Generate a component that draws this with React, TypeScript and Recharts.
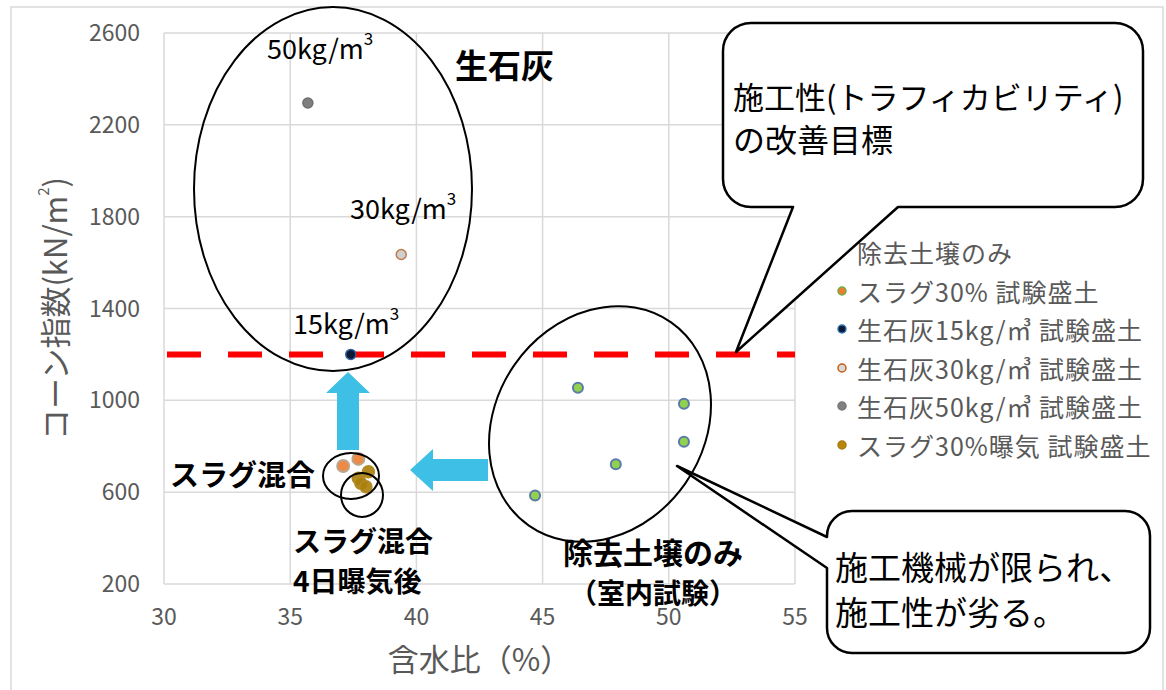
import React from "react";
import {
  ScatterChart,
  Scatter,
  XAxis,
  YAxis,
  CartesianGrid,
  ReferenceLine,
  Legend,
} from "recharts";

const FONT = "'Noto Sans CJK JP', 'Noto Sans', sans-serif";

// 含水比 (%) ticks and コーン指数 ticks
const xTicks = [30, 35, 40, 45, 50, 55];
const yTicks = [200, 600, 1000, 1400, 1800, 2200, 2600];

// series names, in legend order
const seriesNames = [
  "除去土壌のみ",
  "スラグ30% 試験盛土",
  "生石灰15kg/㎥ 試験盛土",
  "生石灰30kg/㎥ 試験盛土",
  "生石灰50kg/㎥ 試験盛土",
  "スラグ30%曝気 試験盛土",
];

// series: w = 含水比(%), cone = コーン指数(kN/m2)
const soilOnly = [
  { w: 46.4, cone: 1055 },
  { w: 50.6, cone: 985 },
  { w: 50.6, cone: 820 },
  { w: 47.9, cone: 722 },
  { w: 44.7, cone: 585 },
];
const slag30 = [
  { w: 37.1, cone: 714 },
  { w: 37.7, cone: 745 },
];
const lime15 = [{ w: 37.4, cone: 1200 }];
const lime30 = [{ w: 39.4, cone: 1635 }];
const lime50 = [{ w: 35.7, cone: 2295 }];
const slag30Aired = [
  { w: 38.1, cone: 689 },
  { w: 37.7, cone: 661 },
  { w: 37.8, cone: 639 },
  { w: 38.0, cone: 624 },
];

const targetCone = 1200;

// legend markers as they look in the source legend
const legendMarks = [
  { fill: "#f8cbad", stroke: "#f4b183" },
  { fill: "#ed7d31", stroke: "#70ad47" },
  { fill: "#0c1a33", stroke: "#2e75b6" },
  { fill: "#d9d9d9", stroke: "#c55a11" },
  { fill: "#808080", stroke: "#767676" },
  { fill: "#b8860b", stroke: "#a67c12" },
];

const dot =
  (r: number, fill: string, stroke: string, sw = 1.5, opacity = 1) =>
  (props: any) =>
    (
      <circle
        cx={props.cx}
        cy={props.cy}
        r={r}
        fill={fill}
        fillOpacity={opacity}
        stroke={stroke}
        strokeWidth={sw}
      />
    );

function renderLegend(props: any) {
  const payload = [...(props.payload || [])].sort(
    (a: any, b: any) => seriesNames.indexOf(a.value) - seriesNames.indexOf(b.value)
  );
  return (
    <div
      style={{
        fontFamily: FONT,
        fontSize: 25,
        letterSpacing: 1,
        color: "#595959",
        lineHeight: "38.5px",
      }}
    >
      {payload.map((entry: any) => {
        const m = legendMarks[seriesNames.indexOf(entry.value)] || legendMarks[0];
        return (
          <div
            key={entry.value}
            style={{ display: "flex", alignItems: "center", whiteSpace: "nowrap" }}
          >
            <svg width={20} height={12} style={{ flex: "none" }}>
              <circle cx={5} cy={6} r={4} fill={m.fill} stroke={m.stroke} strokeWidth={1.5} />
            </svg>
            <span>{entry.value}</span>
          </div>
        );
      })}
    </div>
  );
}

function YTitle(props: any) {
  const vb = props.viewBox || { x: 0, y: 33, width: 164, height: 551 };
  const cx = vb.x + 53;
  const cy = vb.y + vb.height / 2;
  return (
    <text
      x={cx}
      y={cy}
      transform={`rotate(-90 ${cx} ${cy})`}
      textAnchor="middle"
      dominantBaseline="central"
      fontSize={31}
      fill="#595959"
      fontFamily={FONT}
    >
      コーン指数(kN/m
      <tspan dy={-11} fontSize={15}>
        2
      </tspan>
      <tspan dy={11}>)</tspan>
    </text>
  );
}

function XTitle(props: any) {
  const vb = props.viewBox || { x: 164, y: 584, width: 631, height: 50 };
  return (
    <text
      x={vb.x + vb.width / 2}
      y={vb.y + 73}
      textAnchor="middle"
      dominantBaseline="central"
      fontSize={31}
      fill="#595959"
      fontFamily={FONT}
    >
      含水比（%）
    </text>
  );
}

function Note() {
  const bold = { fontWeight: 700, fill: "#000", fontFamily: FONT } as const;
  const plain = { fill: "#000", fontFamily: FONT } as const;
  const cyan = "#3ebfe5";
  return (
    <svg
      width={1166}
      height={690}
      style={{ position: "absolute", left: 0, top: 0, pointerEvents: "none" }}
    >
      <rect x={11} y={7} width={1152} height={720} fill="none" stroke="#d9d9d9" strokeWidth={1.5} />

      {/* arrows */}
      <polygon
        points="337,450 337,393 326,393 348,372 370,393 359,393 359,450"
        fill={cyan}
      />
      <polygon
        points="488,459 433,459 433,449 410,470 433,491 433,481 488,481"
        fill={cyan}
      />

      {/* ellipses */}
      <g fill="none" stroke="#000" strokeWidth={2}>
        <ellipse cx={333} cy={189} rx={139} ry={182} />
        <ellipse cx={351} cy={476} rx={28} ry={23} />
        <ellipse cx={362} cy={495} rx={21} ry={22} />
        <ellipse cx={600} cy={424} rx={124} ry={104} transform="rotate(-55 600 424)" />
      </g>

      {/* labels */}
      <text x={267} y={47} fontSize={27} dominantBaseline="central" {...plain}>
        50kg/m<tspan dy={-10} fontSize={17}>3</tspan>
      </text>
      <text x={350} y={207} fontSize={27} dominantBaseline="central" {...plain}>
        30kg/m<tspan dy={-10} fontSize={17}>3</tspan>
      </text>
      <text x={293} y={322} fontSize={27} dominantBaseline="central" {...plain}>
        15kg/m<tspan dy={-10} fontSize={17}>3</tspan>
      </text>
      <text x={455} y={64} fontSize={33} dominantBaseline="central" {...bold}>
        生石灰
      </text>
      <text x={170} y={473} fontSize={29} dominantBaseline="central" {...bold}>
        スラグ混合
      </text>
      <text x={293} y={540} fontSize={28} dominantBaseline="central" {...bold}>
        スラグ混合
      </text>
      <text x={293} y={580} fontSize={28} dominantBaseline="central" {...bold}>
        4日曝気後
      </text>
      <text x={653} y={551} fontSize={30} textAnchor="middle" dominantBaseline="central" {...bold}>
        除去土壌のみ
      </text>
      <text x={653} y={592} fontSize={28} textAnchor="middle" dominantBaseline="central" {...bold}>
        （室内試験）
      </text>

      {/* callouts */}
      <path
        d="M751 23 H1115 A28 28 0 0 1 1143 51 V179 A28 28 0 0 1 1115 207 H898 L736 352 L793 207 H751 A28 28 0 0 1 723 179 V51 A28 28 0 0 1 751 23 Z"
        fill="#fff"
        stroke="#000"
        strokeWidth={2.5}
        strokeLinejoin="round"
      />
      <text x={733} y={95} fontSize={31} dominantBaseline="central" {...plain}>
        施工性(トラフィカビリティ)
      </text>
      <text x={733} y={138} fontSize={32} dominantBaseline="central" {...plain}>
        の改善目標
      </text>

      <path
        d="M852 511 H1125 A25 25 0 0 1 1150 536 V628 A25 25 0 0 1 1125 653 H852 A25 25 0 0 1 827 628 V568 L677 466 L827 537 V536 A25 25 0 0 1 852 511 Z"
        fill="#fff"
        stroke="#000"
        strokeWidth={2.5}
        strokeLinejoin="round"
      />
      <text x={835} y={566} fontSize={33} dominantBaseline="central" {...plain}>
        施工機械が限られ、
      </text>
      <text x={835} y={611} fontSize={33} dominantBaseline="central" {...plain}>
        施工性が劣る。
      </text>
    </svg>
  );
}

export default function App() {
  return (
    <div
      style={{
        position: "absolute",
        left: 0,
        top: 0,
        width: 1166,
        height: 690,
        background: "#fff",
        fontFamily: FONT,
      }}
    >
      <ScatterChart
        width={1166}
        height={690}
        margin={{ top: 33, right: 371, bottom: 56, left: 0 }}
      >
        <CartesianGrid stroke="#d9d9d9" strokeWidth={1.5} />
        <XAxis
          type="number"
          dataKey="w"
          domain={[30, 55]}
          ticks={xTicks}
          interval={0}
          height={50}
          axisLine={false}
          tickLine={false}
          tickSize={0}
          tickMargin={25}
          tick={{ fill: "#595959", fontSize: 23, fontFamily: FONT }}
          label={<XTitle />}
        />
        <YAxis
          type="number"
          dataKey="cone"
          domain={[200, 2600]}
          ticks={yTicks}
          interval={0}
          width={164}
          axisLine={false}
          tickLine={false}
          tickSize={0}
          tickMargin={24}
          tick={{ fill: "#595959", fontSize: 23, fontFamily: FONT }}
          label={<YTitle />}
        />
        <Legend
          layout="horizontal"
          verticalAlign="middle"
          align="center"
          itemSorter={null as any}
          content={renderLegend}
          wrapperStyle={{ left: 837, top: 233, width: 329, height: 240 }}
        />
        <Scatter
          name={seriesNames[0]}
          data={soilOnly}
          fill="#92d050"
          shape={dot(5, "#92d050", "#5a7aa8", 2)}
          isAnimationActive={false}
        />
        <Scatter
          name={seriesNames[1]}
          data={slag30}
          fill="#ed7d31"
          shape={dot(6, "#ed7d31", "#b9a68f", 2, 0.9)}
          isAnimationActive={false}
        />
        <Scatter
          name={seriesNames[2]}
          data={lime15}
          fill="#0c1a33"
          shape={dot(5, "#0c1a33", "#2e5f9e", 1.5)}
          isAnimationActive={false}
        />
        <Scatter
          name={seriesNames[3]}
          data={lime30}
          fill="#d0d0d0"
          shape={dot(5, "#cfcfcf", "#c07a4a", 1.5)}
          isAnimationActive={false}
        />
        <Scatter
          name={seriesNames[4]}
          data={lime50}
          fill="#7f7f7f"
          shape={dot(5, "#7f7f7f", "#6e6e6e", 1.5)}
          isAnimationActive={false}
        />
        <Scatter
          name={seriesNames[5]}
          data={slag30Aired}
          fill="#b08510"
          shape={dot(6, "#a87d0c", "#b28a22", 1.5, 0.9)}
          isAnimationActive={false}
        />
        <ReferenceLine
          y={targetCone}
          stroke="#ff0000"
          strokeWidth={6}
          strokeDasharray="34 27"
          strokeDashoffset={-3}
        />
      </ScatterChart>
      <Note />
    </div>
  );
}
